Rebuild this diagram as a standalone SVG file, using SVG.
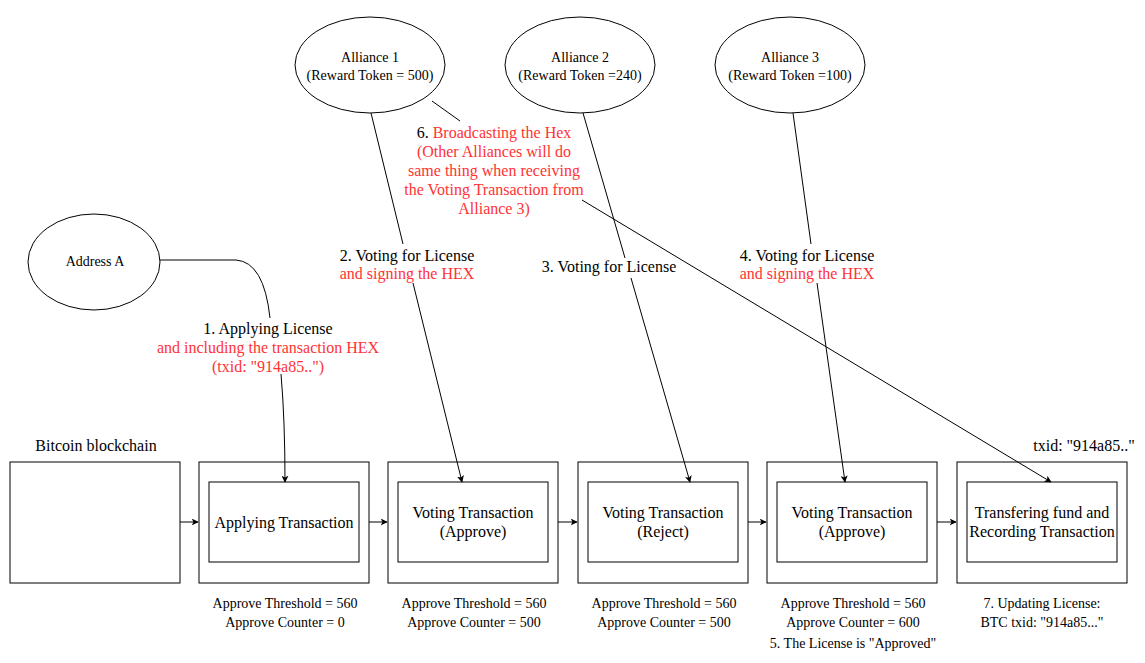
<svg xmlns="http://www.w3.org/2000/svg" width="1145" height="663" viewBox="0 0 1145 663">
<style>
text{font-family:'Liberation Serif','DejaVu Serif',serif;fill:#000;text-anchor:middle}
.s{font-size:14px}
.m{font-size:16px}
.b{font-size:14px}
.r{fill:#FF3333}
.box{fill:#fff;stroke:#000;stroke-width:1}
.ell{fill:#fff;stroke:#000;stroke-width:1}
.c{fill:none;stroke:#000;stroke-width:1}
</style>
<defs>
<marker id="ah" viewBox="0 0 10 10" refX="9" refY="5" markerWidth="7" markerHeight="7" markerUnits="userSpaceOnUse" orient="auto">
<path d="M0,0 L10,5 L0,10 L2.5,5 Z" fill="#000"/>
</marker>
</defs>
<rect width="1145" height="663" fill="#fff"/>

<g id="alliance1"><ellipse class="ell" cx="370" cy="65" rx="75" ry="48"/><text class="s" x="370" y="62">Alliance 1</text><text class="s" x="370" y="80">(Reward Token = 500)</text></g>
<g id="alliance2"><ellipse class="ell" cx="580" cy="65" rx="75" ry="48"/><text class="s" x="580" y="62">Alliance 2</text><text class="s" x="580" y="80">(Reward Token =240)</text></g>
<g id="alliance3"><ellipse class="ell" cx="790" cy="65" rx="75" ry="48"/><text class="s" x="790" y="62">Alliance 3</text><text class="s" x="790" y="80">(Reward Token =100)</text></g>
<g id="addressA"><ellipse class="ell" cx="94" cy="262" rx="66" ry="48"/><text class="s" x="95" y="266">Address A</text></g>

<g id="bitcoin-label"><text class="m" x="96" y="451">Bitcoin blockchain</text></g>
<g id="txid-label"><text class="m" x="1084" y="451">txid: "914a85.."</text></g>

<g id="block0"><rect class="box" x="10" y="462" width="170" height="121"/></g>
<g id="block1"><rect class="box" x="199" y="462" width="170" height="121"/><rect class="box" x="209" y="482" width="150" height="80"/><text class="m" x="284" y="528">Applying Transaction</text></g>
<g id="block2"><rect class="box" x="388" y="462" width="170" height="121"/><rect class="box" x="398" y="482" width="150" height="80"/><text class="m" x="473" y="518">Voting Transaction</text><text class="m" x="473" y="537">(Approve)</text></g>
<g id="block3"><rect class="box" x="578" y="462" width="170" height="121"/><rect class="box" x="588" y="482" width="150" height="80"/><text class="m" x="663" y="518">Voting Transaction</text><text class="m" x="663" y="537">(Reject)</text></g>
<g id="block4"><rect class="box" x="767" y="462" width="170" height="121"/><rect class="box" x="777" y="482" width="150" height="80"/><text class="m" x="852" y="518">Voting Transaction</text><text class="m" x="852" y="537">(Approve)</text></g>
<g id="block5"><rect class="box" x="957" y="462" width="170" height="121"/><rect class="box" x="967" y="482" width="150" height="80"/><text class="m" x="1042" y="518">Transfering fund and</text><text class="m" x="1042" y="537">Recording Transaction</text></g>

<g id="notes">
<text class="b" x="285" y="608">Approve Threshold = 560</text><text class="b" x="285" y="627">Approve Counter = 0</text>
<text class="b" x="474" y="608">Approve Threshold = 560</text><text class="b" x="474" y="627">Approve Counter = 500</text>
<text class="b" x="664" y="608">Approve Threshold = 560</text><text class="b" x="664" y="627">Approve Counter = 500</text>
<text class="b" x="853" y="608">Approve Threshold = 560</text><text class="b" x="853" y="627">Approve Counter = 600</text>
<text class="b" x="853" y="648">5. The License is "Approved"</text>
<text class="b" x="1042" y="608">7. Updating License:</text><text class="b" x="1042" y="627">BTC txid: "914a85..."</text>
</g>

<g id="connectors">
<path class="c" d="M180,522 H198" marker-end="url(#ah)"/>
<path class="c" d="M369,522 H387" marker-end="url(#ah)"/>
<path class="c" d="M558,522 H577" marker-end="url(#ah)"/>
<path class="c" d="M748,522 H766" marker-end="url(#ah)"/>
<path class="c" d="M937,522 H956" marker-end="url(#ah)"/>

<path class="c" d="M160,260 H236 Q264,262 270,318"/>
<path class="c" d="M281,374 Q285,420 285,482" marker-end="url(#ah)"/>

<path class="c" d="M371,113 L403,244"/>
<path class="c" d="M413,283 L462,482" marker-end="url(#ah)"/>

<path class="c" d="M583,113 L625,258"/>
<path class="c" d="M631,278 L690,482" marker-end="url(#ah)"/>

<path class="c" d="M793,113 L811,244"/>
<path class="c" d="M817,283 L845,482" marker-end="url(#ah)"/>

<path class="c" d="M432,101 L460,121"/>
<path class="c" d="M582,200 L1051,482" marker-end="url(#ah)"/>
</g>

<g id="labels">
<text class="m" x="268" y="334">1. Applying License</text>
<text class="m r" x="268" y="353">and including the transaction HEX</text>
<text class="m r" x="268" y="372">(txid: "914a85..")</text>

<text class="m" x="407" y="261">2. Voting for License</text>
<text class="m r" x="407" y="279">and signing the HEX</text>

<text class="m" x="609" y="272">3. Voting for License</text>

<text class="m" x="807" y="261">4. Voting for License</text>
<text class="m r" x="807" y="279">and signing the HEX</text>

<text class="m" x="494" y="138">6. <tspan class="r">Broadcasting the Hex</tspan></text>
<text class="m r" x="494" y="157">(Other Alliances will do</text>
<text class="m r" x="494" y="176">same thing when receiving</text>
<text class="m r" x="494" y="195">the Voting Transaction from</text>
<text class="m r" x="494" y="214">Alliance 3)</text>
</g>
</svg>
